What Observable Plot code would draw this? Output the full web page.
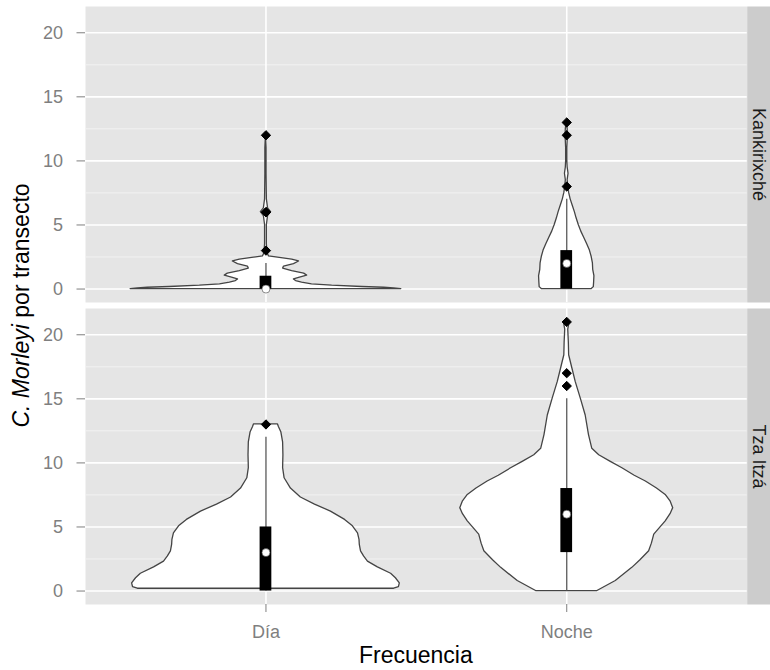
<!DOCTYPE html>
<html>
<head>
<meta charset="utf-8">
<script src="https://cdn.jsdelivr.net/npm/d3@7"></script>
<script src="https://cdn.jsdelivr.net/npm/@observablehq/plot@0.6"></script>
<style>
  html, body { margin: 0; padding: 0; background: white; }
  #chart { width: 770px; height: 670px; }
</style>
</head>
<body>
<div id="chart"></div>
<script>
// ---- Data ----
const sites = ["Kankirixché", "Tza Itzá"];
const periods = ["Día", "Noche"];
const yTicks = [0, 5, 10, 15, 20];
const yMinorTicks = [2.5, 7.5, 12.5, 17.5];
const yTitleItalic = "C. Morleyi";
const yTitleRest = " por transecto";
const xTitle = "Frecuencia";

// violin profiles: value (y) and half-width (in category units)
const kankDiaY = [0, 0.05, 0.1, 0.16, 0.26, 0.37, 0.5, 0.62, 0.75, 0.9, 1.05, 1.2, 1.4, 1.6, 1.75, 1.95, 2.15, 2.3, 2.45, 2.55, 2.8, 3.5, 5.0, 5.7, 6.0, 6.3, 7.0, 9, 11, 12];
const kankDiaW = [0.45, 0.426, 0.393, 0.32, 0.22, 0.153, 0.12, 0.1, 0.093, 0.113, 0.137, 0.127, 0.087, 0.057, 0.06, 0.093, 0.11, 0.087, 0.04, 0.01, 0.005, 0.003, 0.003, 0.007, 0.017, 0.007, 0.003, 0.002, 0.002, 0];

const kankNocheY = [0, 0.15, 0.5, 1, 1.5, 2, 2.5, 3, 3.5, 4, 4.5, 5, 5.5, 6, 6.5, 7, 7.5, 8, 8.5, 9, 9.5, 10, 11, 12, 12.5, 13];
const kankNocheW = [0.083, 0.09, 0.091, 0.092, 0.088, 0.087, 0.083, 0.077, 0.068, 0.058, 0.048, 0.04, 0.033, 0.027, 0.02, 0.013, 0.008, 0.005, 0.003, 0.006, 0.003, 0.002, 0.002, 0.004, 0.003, 0];

const tzaDiaY = [0.18, 0.3, 0.6, 1.0, 1.35, 1.85, 2.3, 2.7, 3.1, 3.6, 4.0, 4.5, 5.05, 5.55, 6.2, 6.75, 7.3, 8.0, 8.8, 9.6, 10.6, 11.6, 12.4, 12.8, 13.0];
const tzaDiaW = [0.426, 0.442, 0.445, 0.432, 0.416, 0.372, 0.339, 0.326, 0.316, 0.312, 0.311, 0.306, 0.289, 0.263, 0.216, 0.163, 0.116, 0.083, 0.062, 0.057, 0.058, 0.057, 0.051, 0.043, 0.04];

const tzaNocheY = [0, 0.78, 1.81, 2.4, 3.1, 3.7, 4.4, 5.44, 6.0, 6.47, 7.0, 7.5, 8.0, 8.55, 9.0, 9.58, 10.1, 10.6, 11.1, 12.17, 13.7, 15.0, 16.3, 17.35, 18.4, 19.4, 20.4, 20.8, 21];
const tzaNocheW = [0.102, 0.163, 0.218, 0.245, 0.274, 0.283, 0.291, 0.329, 0.345, 0.354, 0.345, 0.329, 0.3, 0.263, 0.226, 0.185, 0.145, 0.108, 0.085, 0.074, 0.063, 0.047, 0.03, 0.019, 0.008, 0.007, 0.005, 0.008, 0];

// boxplot statistics
const boxSite   = ["Kankirixché", "Kankirixché", "Tza Itzá", "Tza Itzá"];
const boxPeriod = ["Día", "Noche", "Día", "Noche"];
const boxLow    = [0, 0, 0, 0];
const boxQ1     = [0, 0, 0, 3];
const boxMedian = [0, 2, 3, 6];
const boxQ3     = [1, 3, 5, 8];
const boxHigh   = [2, 7, 12, 15];

// outliers
const outSite   = ["Kankirixché", "Kankirixché", "Kankirixché", "Kankirixché", "Kankirixché", "Kankirixché", "Kankirixché", "Tza Itzá", "Tza Itzá", "Tza Itzá", "Tza Itzá"];
const outPeriod = ["Día", "Día", "Día", "Día", "Noche", "Noche", "Noche", "Día", "Noche", "Noche", "Noche"];
const outValue  = [3, 6, 6, 12, 8, 12, 13, 13, 16, 17, 21];

// ---- Build tables ----
const pos = p => periods.indexOf(p) + 1;
const violinDefs = [
  {site: sites[0], period: periods[0], y: kankDiaY, w: kankDiaW},
  {site: sites[0], period: periods[1], y: kankNocheY, w: kankNocheW},
  {site: sites[1], period: periods[0], y: tzaDiaY, w: tzaDiaW},
  {site: sites[1], period: periods[1], y: tzaNocheY, w: tzaNocheW}
];
const violinRows = violinDefs.flatMap((v, k) =>
  v.y.map((yy, i) => ({id: k, site: v.site, x: pos(v.period), v: yy, w: v.w[i]})));
const boxes = boxSite.map((s, i) => ({
  site: s, x: pos(boxPeriod[i]), low: boxLow[i], q1: boxQ1[i],
  med: boxMedian[i], q3: boxQ3[i], high: boxHigh[i]
}));
const outliers = outSite.map((s, i) => ({site: s, x: pos(outPeriod[i]), v: outValue[i]}));

// ---- Layout constants ----
const W = 770, H = 670;
const mL = 85, mR = 23.3, mT = 6, mB = 65;
const boxHalf = 0.0195;
const font = "'Liberation Sans', Arial, Helvetica, sans-serif";

const chart = Plot.plot({
  width: W, height: H,
  marginLeft: mL, marginRight: mR, marginTop: mT, marginBottom: mB,
  style: {fontFamily: font, background: "white", overflow: "visible"},
  x: {domain: [0.4, 2.6], axis: null},
  y: {domain: [-1.05, 22.05], axis: null},
  fy: {domain: sites, paddingInner: 0.0185, paddingOuter: 0, axis: null, label: null},
  marks: [
    Plot.frame({fill: "#e5e5e5"}),
    Plot.frame({fill: "#cccccc", insetLeft: W - mL - mR, insetRight: -mR}),
    Plot.gridY(yMinorTicks, {stroke: "#f2f2f2", strokeOpacity: 1, strokeWidth: 1}),
    Plot.gridY(yTicks, {stroke: "#ffffff", strokeOpacity: 1, strokeWidth: 1.6}),
    Plot.gridX([1, 2], {stroke: "#ffffff", strokeOpacity: 1, strokeWidth: 1.6}),
    Plot.areaX(violinRows, {
      y: "v", x1: d => d.x - d.w, x2: d => d.x + d.w, fy: "site", z: "id",
      fill: "white", stroke: "#444444", strokeWidth: 1.3, strokeLinejoin: "round", curve: "linear"
    }),
    Plot.ruleX(boxes, {x: "x", y1: "low", y2: "high", fy: "site", stroke: "#5a5a5a", strokeWidth: 1.3}),
    Plot.rect(boxes, {x1: d => d.x - boxHalf, x2: d => d.x + boxHalf, y1: "q1", y2: "q3", fy: "site", fill: "black"}),
    Plot.dot(boxes, {x: "x", y: "med", fy: "site", r: 4, fill: "white", stroke: "#444", strokeWidth: 0.6}),
    Plot.dot(outliers, {x: "x", y: "v", fy: "site", symbol: "diamond2", r: 4.2, fill: "black", stroke: "black", strokeWidth: 1, strokeLinejoin: "round"}),
    Plot.text(sites, {fy: d => d, text: d => d, frameAnchor: "right", dx: 11.7, rotate: 90,
      textAnchor: "middle", lineAnchor: "middle", fontSize: 18, fill: "#1a1a1a"}),
    Plot.axisY(yTicks, {anchor: "left", tickSize: 8.5, tickPadding: 14, fontSize: 18, color: "#7f7f7f", label: null}),
    Plot.axisX([1, 2], {anchor: "bottom", tickSize: 8, tickPadding: 13, fontSize: 18, color: "#7f7f7f",
      tickFormat: d => periods[d - 1], label: null})
  ]
});

const svg = d3.select(chart);
// y axis title (mixed italic)
const yt = svg.append("text")
  .attr("transform", `translate(28.5, ${(mT + (H - mB)) / 2}) rotate(-90)`)
  .attr("text-anchor", "middle")
  .attr("font-family", font)
  .attr("font-size", 23)
  .attr("fill", "black");
yt.append("tspan").attr("font-style", "italic").text(yTitleItalic);
yt.append("tspan").text(yTitleRest);
// x axis title
svg.append("text")
  .attr("x", mL + (W - mL - mR) / 2)
  .attr("y", 662.5)
  .attr("text-anchor", "middle")
  .attr("font-family", font)
  .attr("font-size", 23)
  .attr("fill", "black")
  .text(xTitle);

document.getElementById("chart").appendChild(chart);
</script>
</body>
</html>
